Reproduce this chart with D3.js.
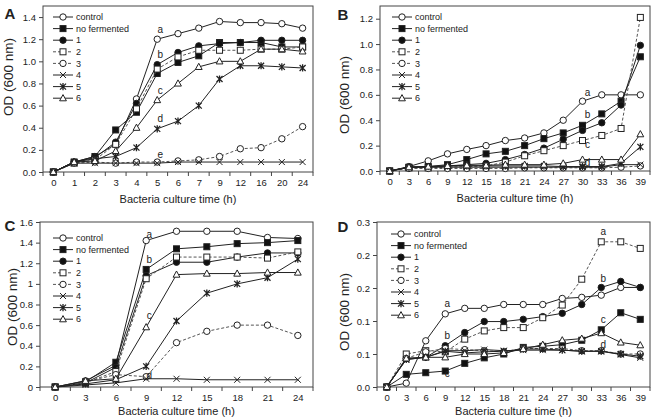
<!DOCTYPE html>
<html>
<head>
<meta charset="utf-8">
<script src="https://cdn.jsdelivr.net/npm/d3@7"></script>
<style>
    body { margin: 0; background: #fff; }
    svg text { font-family: "Liberation Sans", Arial, sans-serif; fill: #222; }
</style>
</head>
<body>
<svg id="chart" width="654" height="418"></svg>
<script>
// series, in legend order
const seriesNames = ["control", "no fermented", "1", "2", "3", "4", "5", "6"];

// culture times (h)
const hoursA = [0, 1, 2, 3, 4, 5, 6, 7, 9, 12, 16, 20, 24];
const hoursB = [0, 3, 6, 9, 12, 15, 18, 21, 24, 27, 30, 33, 36, 39];
const hoursC = [0, 3, 6, 9, 12, 15, 18, 21, 24];
const hoursD = [0, 3, 6, 9, 12, 15, 18, 21, 24, 27, 30, 33, 36, 39];

// OD (600 nm), one row per series
const odA = [
    [0, 0.09, 0.14, 0.25, 0.66, 1.20, 1.25, 1.30, 1.36, 1.35, 1.35, 1.34, 1.30],
    [0, 0.09, 0.14, 0.38, 0.54, 0.89, 0.99, 1.05, 1.17, 1.17, 1.17, 1.13, 1.13],
    [0, 0.09, 0.13, 0.27, 0.62, 0.97, 1.08, 1.14, 1.16, 1.17, 1.19, 1.19, 1.19],
    [0, 0.08, 0.11, 0.25, 0.57, 0.93, 1.04, 1.10, 1.10, 1.10, 1.11, 1.11, 1.13],
    [0, 0.08, 0.09, 0.08, 0.09, 0.09, 0.10, 0.11, 0.14, 0.21, 0.22, 0.30, 0.41],
    [0, 0.08, 0.08, 0.08, 0.08, 0.08, 0.09, 0.09, 0.09, 0.09, 0.09, 0.09, 0.09],
    [0, 0.09, 0.12, 0.14, 0.22, 0.39, 0.46, 0.60, 0.84, 0.96, 0.96, 0.95, 0.94],
    [0, 0.09, 0.10, 0.19, 0.40, 0.65, 0.80, 0.95, 1.00, 1.00, 1.11, 1.11, 1.09]
];
const odB = [
    [0, 0.035, 0.08, 0.135, 0.17, 0.20, 0.24, 0.26, 0.30, 0.40, 0.55, 0.60, 0.60, 0.60],
    [0, 0.03, 0.035, 0.05, 0.09, 0.135, 0.155, 0.20, 0.255, 0.30, 0.36, 0.45, 0.55, 0.90],
    [0, 0.03, 0.03, 0.04, 0.05, 0.06, 0.09, 0.13, 0.18, 0.25, 0.32, 0.38, 0.52, 0.99],
    [0, 0.025, 0.025, 0.03, 0.035, 0.04, 0.07, 0.12, 0.16, 0.20, 0.24, 0.28, 0.335, 1.21],
    [0, 0.02, 0.02, 0.02, 0.02, 0.02, 0.02, 0.025, 0.025, 0.025, 0.025, 0.025, 0.03, 0.04],
    [0, 0.03, 0.03, 0.03, 0.03, 0.03, 0.03, 0.03, 0.03, 0.03, 0.03, 0.03, 0.05, 0.05],
    [0, 0.03, 0.035, 0.04, 0.04, 0.04, 0.04, 0.04, 0.04, 0.035, 0.035, 0.035, 0.06, 0.19],
    [0, 0.03, 0.035, 0.04, 0.045, 0.045, 0.05, 0.05, 0.05, 0.06, 0.09, 0.09, 0.09, 0.29]
];
const odC = [
    [0, 0.06, 0.21, 1.42, 1.51, 1.51, 1.51, 1.45, 1.44],
    [0, 0.05, 0.24, 1.14, 1.34, 1.36, 1.39, 1.40, 1.42],
    [0, 0.04, 0.19, 1.08, 1.21, 1.21, 1.26, 1.30, 1.30],
    [0, 0.04, 0.15, 1.05, 1.26, 1.26, 1.26, 1.25, 1.31],
    [0, 0.05, 0.12, 0.10, 0.43, 0.54, 0.60, 0.60, 0.50],
    [0, 0.02, 0.04, 0.08, 0.08, 0.07, 0.07, 0.07, 0.07],
    [0, 0.03, 0.07, 0.20, 0.64, 0.91, 1.00, 1.06, 1.24],
    [0, 0.06, 0.08, 0.58, 1.09, 1.10, 1.10, 1.11, 1.11]
];
const odD = [
    [0, 0.007, 0.084, 0.133, 0.143, 0.143, 0.150, 0.150, 0.150, 0.161, 0.163, 0.167, 0.181, 0.181],
    [0, 0.023, 0.026, 0.029, 0.043, 0.053, 0.060, 0.072, 0.074, 0.077, 0.085, 0.104, 0.135, 0.123],
    [0, 0.052, 0.054, 0.075, 0.099, 0.119, 0.119, 0.123, 0.128, 0.134, 0.150, 0.181, 0.192, 0.181],
    [0, 0.060, 0.066, 0.064, 0.087, 0.102, 0.108, 0.108, 0.126, 0.149, 0.196, 0.264, 0.264, 0.252],
    [0, 0.052, 0.064, 0.070, 0.068, 0.066, 0.064, 0.070, 0.070, 0.070, 0.066, 0.066, 0.060, 0.060],
    [0, 0.050, 0.054, 0.066, 0.066, 0.068, 0.066, 0.067, 0.067, 0.067, 0.065, 0.065, 0.059, 0.053],
    [0, 0.050, 0.054, 0.065, 0.062, 0.064, 0.065, 0.069, 0.069, 0.067, 0.065, 0.065, 0.060, 0.056],
    [0, 0.052, 0.054, 0.054, 0.060, 0.060, 0.062, 0.069, 0.077, 0.085, 0.088, 0.098, 0.081, 0.076]
];

// significance letters: [letter, hour, OD]
const lettersA = [["a", 5, 1.29], ["b", 5, 1.06], ["c", 5, 0.74], ["d", 5, 0.48], ["e", 5, 0.16]];
const lettersB = [["a", 30, 0.62], ["b", 30, 0.445], ["c", 30, 0.21], ["d", 30, 0.068]];
const lettersC = [["a", 9, 1.48], ["b", 9, 1.24], ["c", 9, 0.69], ["d", 9, 0.11]];
const lettersD = [["a", 33, 0.282], ["b", 33, 0.198], ["c", 33, 0.122], ["d", 33, 0.078],
                  ["a", 9, 0.152], ["b", 9, 0.093], ["c", 9, 0.024]];

// y ticks
const yTicksA = [0, 0.2, 0.4, 0.6, 0.8, 1.0, 1.2, 1.4];
const yTicksB = [0, 0.2, 0.4, 0.6, 0.8, 1.0, 1.2];
const yTicksC = [0, 0.2, 0.4, 0.6, 0.8, 1.0, 1.2, 1.4, 1.6];
const yTicksD = [0, 0.06, 0.12, 0.18, 0.24, 0.30];

const styles = [
    { marker: "circle", fill: "#fff", dash: null },
    { marker: "square", fill: "#111", dash: null },
    { marker: "circle", fill: "#111", dash: null },
    { marker: "square", fill: "#fff", dash: "3,2" },
    { marker: "circle", fill: "#fff", dash: "3,2" },
    { marker: "x", fill: "none", dash: null },
    { marker: "star", fill: "none", dash: null },
    { marker: "triangle", fill: "#fff", dash: null }
];

const panels = [
    { id: "A", hours: hoursA, od: odA, letters: lettersA, yTicks: yTicksA, yMax: 1.5,
      left: 43, right: 313, top: 6, bottom: 172, fmt: d3.format(".1f"),
      labelX: 10, labelY: 19, titleX: 9, titleY: 77, legX: 10, legY: 11, letterDx: 3, xTitleDy: 31 },
    { id: "B", hours: hoursB, od: odB, letters: lettersB, yTicks: yTicksB, yMax: 1.3,
      left: 380, right: 650, top: 6, bottom: 171, fmt: d3.format(".1f"),
      labelX: 343, labelY: 20, titleX: 345, titleY: 95, legX: 12, legY: 11, letterDx: 5, xTitleDy: 31 },
    { id: "C", hours: hoursC, od: odC, letters: lettersC, yTicks: yTicksC, yMax: 1.6,
      left: 40, right: 313, top: 222, bottom: 387, fmt: d => String(+d.toFixed(1)),
      labelX: 10, labelY: 231, titleX: 13, titleY: 307, legX: 13, legY: 16, letterDx: 3, xTitleDy: 28 },
    { id: "D", hours: hoursD, od: odD, letters: lettersD, yTicks: yTicksD, yMax: 0.3,
      left: 377, right: 650, top: 222, bottom: 387, fmt: d3.format(".1f"),
      labelX: 343, labelY: 232, titleX: 345, titleY: 312, legX: 14, legY: 12, letterDx: 2, xTitleDy: 28 }
];

const svg = d3.select("#chart");

function marker(g, st) {
    const stroke = "#222";
    if (st.marker === "circle") {
        g.append("circle").attr("r", 3.2).attr("fill", st.fill).attr("stroke", stroke);
    } else if (st.marker === "square") {
        g.append("rect").attr("x", -3).attr("y", -3).attr("width", 6).attr("height", 6)
            .attr("fill", st.fill).attr("stroke", stroke);
    } else if (st.marker === "triangle") {
        g.append("path").attr("d", "M0,-3.6L3.4,2.6L-3.4,2.6Z").attr("fill", st.fill).attr("stroke", stroke);
    } else if (st.marker === "x") {
        g.append("path").attr("d", "M-3,-3L3,3M-3,3L3,-3").attr("stroke", stroke).attr("fill", "none");
    } else {
        g.append("path").attr("d", "M-3,-3L3,3M-3,3L3,-3M0,-3.6L0,3.6")
            .attr("stroke", stroke).attr("stroke-width", 1.3).attr("fill", "none");
    }
}

panels.forEach(p => {
    const g = svg.append("g");
    const x = d3.scalePoint().domain(p.hours).range([p.left, p.right]).padding(0.5);
    const y = d3.scaleLinear().domain([0, p.yMax]).range([p.bottom, p.top]);

    // frame
    g.append("rect")
        .attr("x", p.left).attr("y", p.top)
        .attr("width", p.right - p.left).attr("height", p.bottom - p.top)
        .attr("fill", "#fff").attr("stroke", "#444").attr("stroke-width", 1);

    // y axis
    const ya = g.append("g").attr("transform", `translate(${p.left},0)`)
        .call(d3.axisLeft(y).tickValues(p.yTicks).tickSize(4).tickPadding(3).tickFormat(p.fmt));
    ya.select(".domain").remove();
    ya.selectAll("line").attr("stroke", "#444");
    ya.selectAll("text").style("font-size", "9.5px").attr("fill", "#222");

    // x axis, ticks between categories
    const xa = g.append("g").attr("transform", `translate(0,${p.bottom})`)
        .call(d3.axisBottom(x).tickSize(0).tickPadding(7));
    xa.select(".domain").remove();
    xa.selectAll("text").style("font-size", "9.5px").attr("fill", "#222");
    const step = x.step();
    g.append("g").selectAll("line")
        .data(d3.range(p.hours.length + 1))
        .join("line")
        .attr("x1", i => p.left + i * step).attr("x2", i => p.left + i * step)
        .attr("y1", p.bottom).attr("y2", p.bottom + 4)
        .attr("stroke", "#444");

    // titles
    g.append("text").attr("x", (p.left + p.right) / 2).attr("y", p.bottom + p.xTitleDy)
        .attr("text-anchor", "middle").style("font-size", "11px")
        .text("Bacteria culture time (h)");
    g.append("text")
        .attr("transform", `translate(${p.titleX},${p.titleY}) rotate(-90)`)
        .attr("text-anchor", "middle").attr("dy", "0.35em")
        .attr("textLength", 78).attr("lengthAdjust", "spacingAndGlyphs")
        .style("font-size", "12px")
        .text("OD (600 nm)");
    g.append("text").attr("x", p.labelX).attr("y", p.labelY)
        .attr("text-anchor", "middle").style("font-size", "15px").style("font-weight", "bold")
        .attr("fill", "#000")
        .text(p.id);

    // series
    p.od.forEach((vals, si) => {
        const st = styles[si];
        const pts = vals.map((v, i) => [x(p.hours[i]), y(v)]);
        g.append("path")
            .attr("d", d3.line()(pts))
            .attr("fill", "none")
            .attr("stroke", st.dash ? "#555" : "#222")
            .attr("stroke-width", 1)
            .attr("stroke-dasharray", st.dash);
        pts.forEach(pt => marker(g.append("g").attr("transform", `translate(${pt[0]},${pt[1]})`), st));
    });

    // letters
    g.append("g").selectAll("text")
        .data(p.letters)
        .join("text")
        .attr("x", d => x(d[1]) + p.letterDx)
        .attr("y", d => y(d[2]))
        .attr("dy", "0.35em")
        .attr("text-anchor", "middle")
        .style("font-size", "10px")
        .attr("fill", "#333")
        .text(d => d[0]);

    // legend
    const lg = g.append("g").attr("transform", `translate(${p.left + p.legX},${p.top + p.legY})`);
    seriesNames.forEach((name, si) => {
        const st = styles[si];
        const row = lg.append("g").attr("transform", `translate(0,${si * 11.6})`);
        row.append("line").attr("x1", 0).attr("x2", 20).attr("y1", 0).attr("y2", 0)
            .attr("stroke", st.dash ? "#555" : "#222").attr("stroke-dasharray", st.dash);
        marker(row.append("g").attr("transform", "translate(10,0)"), st);
        row.append("text").attr("x", 23).attr("dy", "0.35em").style("font-size", "9px").text(name);
    });
});
</script>
</body>
</html>
